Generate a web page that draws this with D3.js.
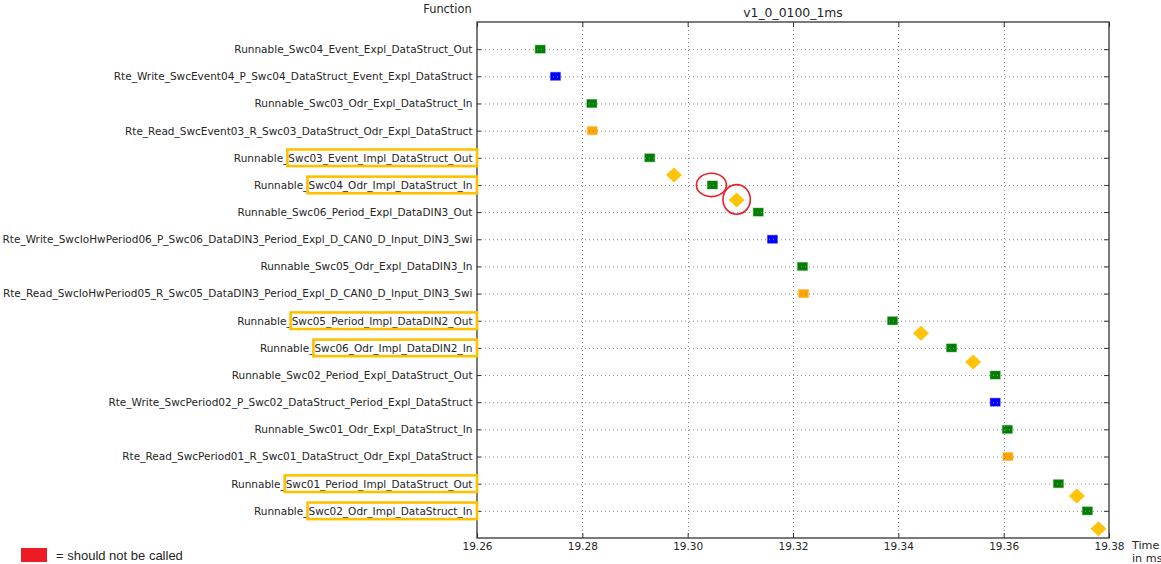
<!DOCTYPE html>
<html>
<head>
<meta charset="utf-8">
<script src="https://cdn.jsdelivr.net/npm/d3@7"></script>
<style>
  html, body { margin: 0; padding: 0; background: #fff; }
  svg { display: block; }
  text { font-family: "DejaVu Sans", sans-serif; fill: #262626; }
</style>
</head>
<body>
<svg id="chart" width="1161" height="564"></svg>
<script>
// Function call trace: one row per runnable / RTE call, ordered top to bottom
const functions = [
  "Runnable_Swc04_Event_Expl_DataStruct_Out",
  "Rte_Write_SwcEvent04_P_Swc04_DataStruct_Event_Expl_DataStruct",
  "Runnable_Swc03_Odr_Expl_DataStruct_In",
  "Rte_Read_SwcEvent03_R_Swc03_DataStruct_Odr_Expl_DataStruct",
  "Runnable_Swc03_Event_Impl_DataStruct_Out",
  "Runnable_Swc04_Odr_Impl_DataStruct_In",
  "Runnable_Swc06_Period_Expl_DataDIN3_Out",
  "Rte_Write_SwcIoHwPeriod06_P_Swc06_DataDIN3_Period_Expl_D_CAN0_D_Input_DIN3_Swi",
  "Runnable_Swc05_Odr_Expl_DataDIN3_In",
  "Rte_Read_SwcIoHwPeriod05_R_Swc05_DataDIN3_Period_Expl_D_CAN0_D_Input_DIN3_Swi",
  "Runnable_Swc05_Period_Impl_DataDIN2_Out",
  "Runnable_Swc06_Odr_Impl_DataDIN2_In",
  "Runnable_Swc02_Period_Expl_DataStruct_Out",
  "Rte_Write_SwcPeriod02_P_Swc02_DataStruct_Period_Expl_DataStruct",
  "Runnable_Swc01_Odr_Expl_DataStruct_In",
  "Rte_Read_SwcPeriod01_R_Swc01_DataStruct_Odr_Expl_DataStruct",
  "Runnable_Swc01_Period_Impl_DataStruct_Out",
  "Runnable_Swc02_Odr_Impl_DataStruct_In"
];

// Call start time of each function (ms)
const callTimes = [
  19.2720, 19.2749, 19.2818, 19.2819, 19.2928, 19.3047,
  19.3134, 19.3161, 19.3218, 19.3220, 19.3389, 19.3501,
  19.3584, 19.3584, 19.3607, 19.3608, 19.3704, 19.3759
];

// Implicit data exchange points (time in ms, lane position between rows)
const implTimes = [19.2974, 19.3093, 19.3443, 19.3542, 19.3739, 19.3780];
const implLanes = [4.63, 5.55, 10.46, 11.52, 16.45, 17.66];

// Rows whose implicit part is marked, and calls that should not happen
const markedRows = [4, 5, 10, 11, 16, 17];
const badCallRows = [5];
const badImplPoints = [1];

const xTicks = [19.26, 19.28, 19.30, 19.32, 19.34, 19.36, 19.38];
const chartTitle = "v1_0_0100_1ms";

const kindColor = { Runnable: "#008000", Rte_Write: "#0000ff", Rte_Read: "#ffa500" };
const implColor = "#ffc40a";
const markColor = "#ffc000";
const badColor = "#e8202a";

const svg = d3.select("#chart");
const plot = { left: 477, top: 22, right: 1109, bottom: 538 };

const x = d3.scaleLinear().domain([19.26, 19.38]).range([plot.left, plot.right]);
const y = d3.scalePoint().domain(functions).range([plot.top, plot.bottom]).padding(1);
const lane = v => y(functions[0]) + v * y.step();

function kindOf(name) {
  if (name.startsWith("Rte_Write")) return "Rte_Write";
  if (name.startsWith("Rte_Read")) return "Rte_Read";
  return "Runnable";
}

const calls = functions.map((f, i) => ({ name: f, t: callTimes[i], kind: kindOf(f), row: i }));
const impls = implTimes.map((t, i) => ({ t, lane: implLanes[i], idx: i }));

// Call markers (squares)
svg.append("g").selectAll("rect").data(calls).join("rect")
  .attr("x", d => x(d.t) - 5)
  .attr("y", d => y(d.name) - 4)
  .attr("width", 10)
  .attr("height", 8)
  .attr("fill", d => kindColor[d.kind])
  .attr("stroke", d => kindColor[d.kind])
  .attr("stroke-opacity", 0.3)
  .attr("stroke-width", 1.2);

// Grid
const grid = svg.append("g")
  .attr("stroke", "#8a8a8a")
  .attr("stroke-width", 1)
  .attr("stroke-dasharray", "1,3");
grid.selectAll("line.h").data(functions).join("line")
  .attr("class", "h")
  .attr("x1", plot.left).attr("x2", plot.right)
  .attr("y1", d => y(d) + 0.5).attr("y2", d => y(d) + 0.5);
grid.selectAll("line.v").data(xTicks.slice(1, -1)).join("line")
  .attr("class", "v")
  .attr("x1", d => Math.round(x(d)) + 0.5).attr("x2", d => Math.round(x(d)) + 0.5)
  .attr("y1", plot.top).attr("y2", plot.bottom);

// Implicit access markers (diamonds)
svg.append("g").selectAll("path").data(impls).join("path")
  .attr("d", d => {
    const cx = x(d.t), cy = lane(d.lane);
    return `M${cx},${cy - 7.5}L${cx + 8},${cy}L${cx},${cy + 7.5}L${cx - 8},${cy}Z`;
  })
  .attr("fill", implColor);

// Axes
const fmt = d3.format(".2f");
const xAxis = svg.append("g")
  .attr("transform", `translate(0,${plot.bottom})`)
  .call(d3.axisBottom(x).tickValues(xTicks).tickFormat(fmt).tickSizeInner(-5).tickSizeOuter(0).tickPadding(5));
const xAxisTop = svg.append("g")
  .attr("transform", `translate(0,${plot.top})`)
  .call(d3.axisTop(x).tickValues(xTicks).tickFormat("").tickSizeInner(-5).tickSizeOuter(0));
const yAxis = svg.append("g")
  .attr("transform", `translate(${plot.left},0)`)
  .call(d3.axisLeft(y).tickSizeInner(-4).tickSizeOuter(0).tickPadding(4.5));
const yAxisRight = svg.append("g")
  .attr("transform", `translate(${plot.right},0)`)
  .call(d3.axisRight(y).tickFormat("").tickSizeInner(-5).tickSizeOuter(0));

[xAxis, xAxisTop, yAxis, yAxisRight].forEach(g => {
  g.select(".domain").remove();
  g.selectAll(".tick line").attr("stroke", "#333");
  g.selectAll(".tick text")
    .attr("fill", "#262626")
    .style("font-family", "'DejaVu Sans', sans-serif")
    .style("font-size", "10.5px");
});

// Frame
svg.append("rect")
  .attr("x", plot.left).attr("y", plot.top)
  .attr("width", plot.right - plot.left).attr("height", plot.bottom - plot.top)
  .attr("fill", "none").attr("stroke", "#333").attr("stroke-width", 1.3);

// Titles
svg.append("text")
  .attr("x", (plot.left + plot.right) / 2).attr("y", 17.3)
  .attr("text-anchor", "middle")
  .style("font-size", "12.4px")
  .text(chartTitle);
svg.append("text")
  .attr("x", 471.7).attr("y", 12.7)
  .attr("text-anchor", "end")
  .style("font-size", "11.4px")
  .text("Function");
const tl = svg.append("text").attr("x", 1132).attr("y", 548.5).style("font-size", "11.2px");
tl.append("tspan").attr("x", 1132).text("Time");
tl.append("tspan").attr("x", 1132).attr("dy", 13.4).text("in ms");

// Boxes around the implicit part of marked labels
const boxG = svg.append("g");
yAxis.selectAll(".tick").each(function (d) {
  const i = functions.indexOf(d);
  if (!markedRows.includes(i)) return;
  const txt = d3.select(this).select("text").node();
  const total = txt.getComputedTextLength();
  const prefix = txt.getSubStringLength(0, "Runnable_".length);
  const endX = plot.left - 4.5;
  const left = endX - total + prefix - 1;
  boxG.append("rect")
    .attr("x", left).attr("y", y(d) - 8.3)
    .attr("width", plot.left - left).attr("height", 16.6)
    .attr("fill", "none").attr("stroke", markColor).attr("stroke-width", 2.6);
});

// Red rings around calls that should not happen
const rings = svg.append("g").attr("fill", "none").attr("stroke", badColor).attr("stroke-width", 1.6);
badCallRows.forEach(r => {
  rings.append("ellipse")
    .attr("cx", x(callTimes[r]) - 1).attr("cy", y(functions[r]))
    .attr("rx", 15).attr("ry", 11.7);
});
badImplPoints.forEach(k => {
  rings.append("ellipse")
    .attr("cx", x(implTimes[k])).attr("cy", lane(implLanes[k]) - 0.5)
    .attr("rx", 13.7).attr("ry", 14.8);
});

// Legend
svg.append("rect")
  .attr("x", 21).attr("y", 548).attr("width", 26).attr("height", 14)
  .attr("fill", "#ed1c24");
svg.append("text")
  .attr("x", 56).attr("y", 560)
  .style("font-family", "'Liberation Sans', Arial, sans-serif")
  .style("font-size", "13px")
  .text("= should not be called");
</script>
</body>
</html>
